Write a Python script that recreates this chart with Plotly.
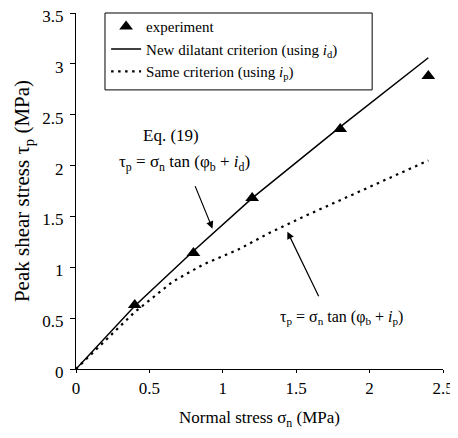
import plotly.graph_objects as go

# Data
exp_x = [0.4, 0.8, 1.2, 1.8, 2.4]
exp_y = [0.63, 1.14, 1.68, 2.36, 2.88]

new_x = [0, 0.4, 0.8, 1.2, 1.8, 2.4]
new_y = [0, 0.62, 1.16, 1.68, 2.38, 3.06]

same_x = [0, 0.4, 0.66, 0.87, 1.1, 1.32, 1.57, 2.4]
same_y = [0, 0.56, 0.86, 1.03, 1.17, 1.34, 1.51, 2.05]

x_ticks = [0, 0.5, 1, 1.5, 2, 2.5]
y_ticks = [0, 0.5, 1, 1.5, 2, 2.5, 3, 3.5]

FONT = "Liberation Serif"

fig = go.Figure()
fig.add_trace(go.Scatter(
    x=exp_x, y=exp_y, mode="markers", name="experiment",
    marker=dict(symbol="triangle-up", size=12, color="black"),
))
fig.add_trace(go.Scatter(
    x=new_x, y=new_y, mode="lines",
    name="New dilatant criterion (using <i>i</i><sub>d</sub>)",
    line=dict(color="black", width=1.5),
))
fig.add_trace(go.Scatter(
    x=same_x, y=same_y, mode="lines",
    name="Same criterion (using <i>i</i><sub>p</sub>)",
    line=dict(color="black", width=2.2, dash="2.5px,4.5px"),
))

fig.add_annotation(
    x=0.93, y=1.38, xref="x", yref="y",
    ax=-18, ay=-44, axref="pixel", ayref="pixel",
    text="", showarrow=True, arrowhead=2, arrowsize=1.2, arrowwidth=1.2,
    arrowcolor="black",
)
fig.add_annotation(
    x=1.44, y=1.35, xref="x", yref="y",
    ax=32, ay=66, axref="pixel", ayref="pixel",
    text="", showarrow=True, arrowhead=2, arrowsize=1.2, arrowwidth=1.2,
    arrowcolor="black",
)
fig.add_annotation(
    x=0.65, y=2.30, xref="x", yref="y", text="Eq. (19)",
    showarrow=False, font=dict(family=FONT, size=17, color="black"),
)
fig.add_annotation(
    x=0.74, y=2.03, xref="x", yref="y",
    text="τ<sub>p</sub> = σ<sub>n</sub> tan (φ<sub>b</sub> + <i>i</i><sub>d</sub>)",
    showarrow=False, font=dict(family=FONT, size=17, color="black"),
)
fig.add_annotation(
    x=1.81, y=0.51, xref="x", yref="y",
    text="τ<sub>p</sub> = σ<sub>n</sub> tan (φ<sub>b</sub> + <i>i</i><sub>p</sub>)",
    showarrow=False, font=dict(family=FONT, size=16, color="black"),
)

# legend frame
fig.add_shape(
    type="rect", xref="paper", yref="paper",
    x0=0.079, x1=0.807, y0=0.784, y1=1.0,
    line=dict(color="black", width=1), fillcolor="rgba(0,0,0,0)", layer="above",
)

fig.update_layout(
    width=450, height=430,
    margin=dict(l=68, r=15, t=5, b=69, autoexpand=False),
    paper_bgcolor="white", plot_bgcolor="white",
    font=dict(family=FONT, color="black", size=16),
    legend=dict(
        x=0.082, y=1.008, xanchor="left", yanchor="top",
        borderwidth=0, bgcolor="rgba(0,0,0,0)",
        font=dict(family=FONT, size=15, color="black"),
        tracegroupgap=0, itemwidth=30,
    ),
    showlegend=True,
)
fig.update_xaxes(
    range=[0, 2.5], tickvals=x_ticks, showgrid=False, zeroline=False,
    showline=True, linecolor="black", linewidth=1.3, automargin=False,
    ticks="outside", ticklen=3, tickcolor="black", ticklabeloverflow="allow",
    tickfont=dict(family=FONT, size=17, color="black"),
    title=dict(text="Normal stress σ<sub>n</sub> (MPa)", font=dict(family=FONT, size=17), standoff=14),
)
fig.update_yaxes(
    range=[0, 3.5], tickvals=y_ticks, showgrid=False, zeroline=False,
    showline=True, linecolor="black", linewidth=1.3, automargin=False,
    ticks="outside", ticklen=5, tickcolor="black", ticklabelstandoff=3,
    ticklabeloverflow="allow", ticklabelshift=3,
    tickfont=dict(family=FONT, size=17, color="black"),
    title=dict(text="Peak shear stress τ<sub>p</sub> (MPa)", font=dict(family=FONT, size=21), standoff=6),
)

fig.write_html("out.html")
